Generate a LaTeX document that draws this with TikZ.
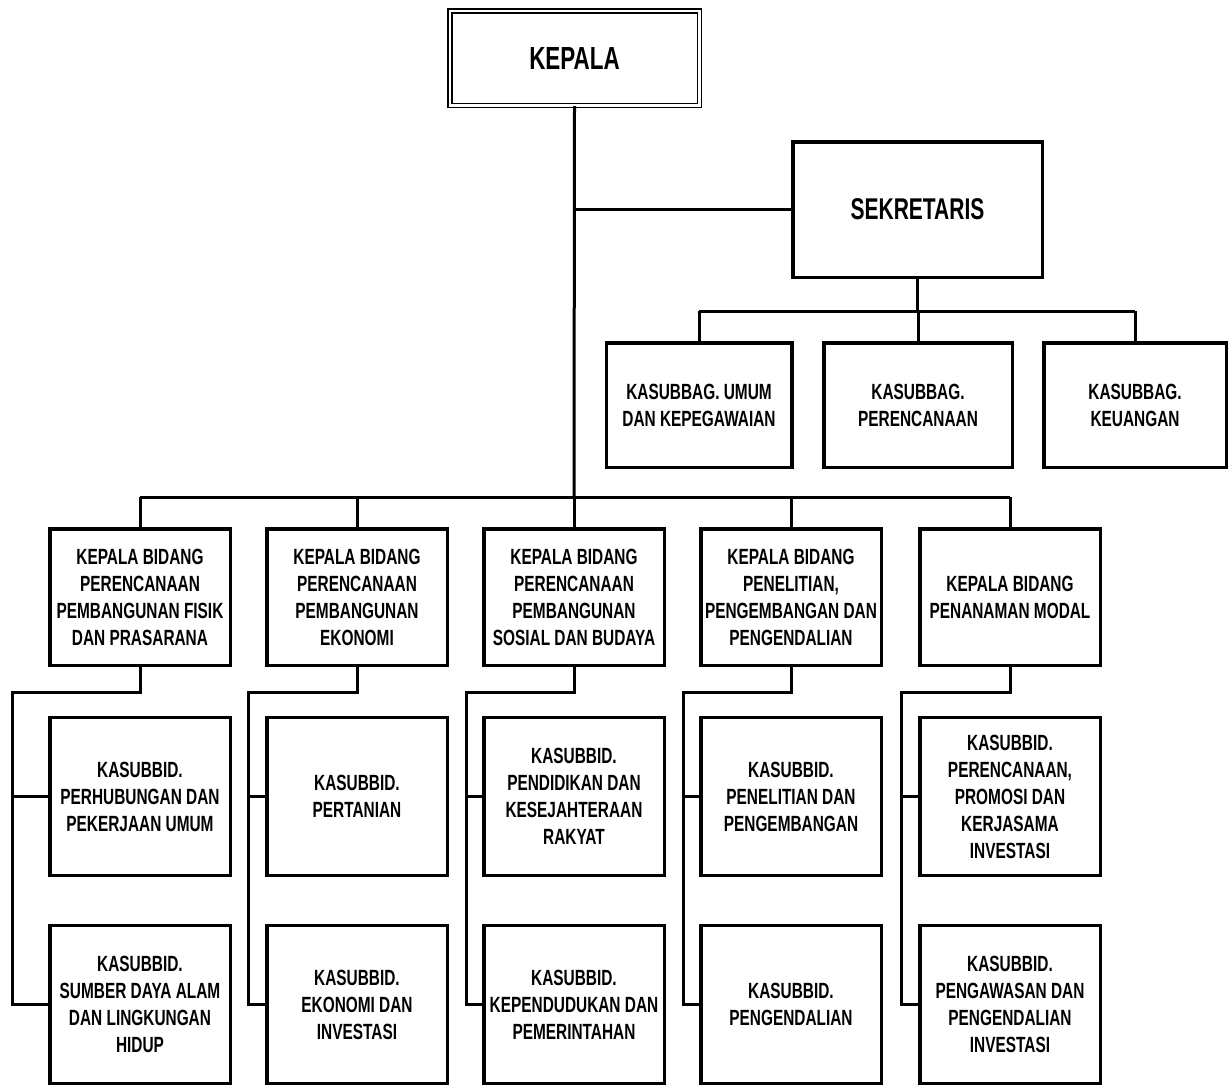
\documentclass[tikz,border=0pt]{standalone}
\usepackage{fontspec}
\setmainfont[FakeStretch=0.70]{Liberation Sans}
\usepackage{tikz}

\begin{document}
\begin{tikzpicture}[x=1pt,y=-1pt,
box/.style={draw,line width=3.5pt,align=center,inner sep=0pt,
  font=\fontsize{22}{27}\selectfont\bfseries},
bidbox/.style={box,minimum width=180.5pt,minimum height=136.5pt},
subbox/.style={box,minimum width=180.5pt,minimum height=158pt},
conn/.style={line width=3pt}
]
\useasboundingbox (0,0) rectangle (1228,1087);

% pimpinan
\node[draw,double,line width=1.5pt,double distance=2.5pt,minimum width=249.5pt,minimum height=94.5pt,
  font=\fontsize{32}{38}\selectfont\bfseries] (kepala) at (574.5,58) {KEPALA};
\node[box,minimum width=249.5pt,minimum height=135.5pt,font=\fontsize{30}{36}\selectfont\bfseries]
  (sekre) at (917.5,209.5) {SEKRETARIS};

% kasubbag
\node[box,minimum width=185.5pt,minimum height=124.5pt] (sbumum) at (699,405) {KASUBBAG. UMUM\\DAN KEPEGAWAIAN};
\node[box,minimum width=188.5pt,minimum height=124.5pt] (sbren) at (918,405) {KASUBBAG.\\PERENCANAAN};
\node[box,minimum width=182.5pt,minimum height=124.5pt] (sbkeu) at (1135,405) {KASUBBAG.\\KEUANGAN};

% bidang
\node[bidbox] (bid1) at (140,597) {KEPALA BIDANG\\PERENCANAAN\\PEMBANGUNAN FISIK\\DAN PRASARANA};
\node[bidbox] (bid2) at (357,597) {KEPALA BIDANG\\PERENCANAAN\\PEMBANGUNAN\\EKONOMI};
\node[bidbox] (bid3) at (574,597) {KEPALA BIDANG\\PERENCANAAN\\PEMBANGUNAN\\SOSIAL DAN BUDAYA};
\node[bidbox] (bid4) at (791,597) {KEPALA BIDANG\\PENELITIAN,\\PENGEMBANGAN DAN\\PENGENDALIAN};
\node[bidbox] (bid5) at (1010,597) {KEPALA BIDANG\\PENANAMAN MODAL};

% kasubbid
\node[subbox] (suba1) at (140,796.5) {KASUBBID.\\PERHUBUNGAN DAN\\PEKERJAAN UMUM};
\node[subbox] (suba2) at (357,796.5) {KASUBBID.\\PERTANIAN};
\node[subbox] (suba3) at (574,796.5) {KASUBBID.\\PENDIDIKAN DAN\\KESEJAHTERAAN\\RAKYAT};
\node[subbox] (suba4) at (791,796.5) {KASUBBID.\\PENELITIAN DAN\\PENGEMBANGAN};
\node[subbox] (suba5) at (1010,796.5) {KASUBBID.\\PERENCANAAN,\\PROMOSI DAN\\KERJASAMA\\INVESTASI};
\node[subbox] (subb1) at (140,1004.5) {KASUBBID.\\SUMBER DAYA ALAM\\DAN LINGKUNGAN\\HIDUP};
\node[subbox] (subb2) at (357,1004.5) {KASUBBID.\\EKONOMI DAN\\INVESTASI};
\node[subbox] (subb3) at (574,1004.5) {KASUBBID.\\KEPENDUDUKAN DAN\\PEMERINTAHAN};
\node[subbox] (subb4) at (791,1004.5) {KASUBBID.\\PENGENDALIAN};
\node[subbox] (subb5) at (1010,1004.5) {KASUBBID.\\PENGAWASAN DAN\\PENGENDALIAN\\INVESTASI};

% garis
\coordinate (busb) at (574,497);
\coordinate (buss) at (917.5,311);
\draw[conn] (kepala.south) -- (busb);
\draw[conn] (kepala.south |- sekre.west) -- (sekre.west);
\draw[conn] (sekre.south) -- (buss);
\draw[conn] (sbumum.north |- buss) -- (sbkeu.north |- buss);
\foreach \n in {sbumum,sbren,sbkeu}
  \draw[conn] (\n.north |- buss) -- (\n.north);
\draw[conn] (bid1.north |- busb) -- (bid5.north |- busb);
\foreach \i in {1,...,5}
  \draw[conn] (bid\i.north |- busb) -- (bid\i.north);
\foreach \i/\lx in {1/12,2/248,3/466,4/683,5/901}{
  \coordinate (ln\i) at (\lx,692);
  \draw[conn] (bid\i.south) |- (ln\i) |- (subb\i.west);
  \draw[conn] (ln\i |- suba\i.west) -- (suba\i.west);
}
\end{tikzpicture}
\end{document}
